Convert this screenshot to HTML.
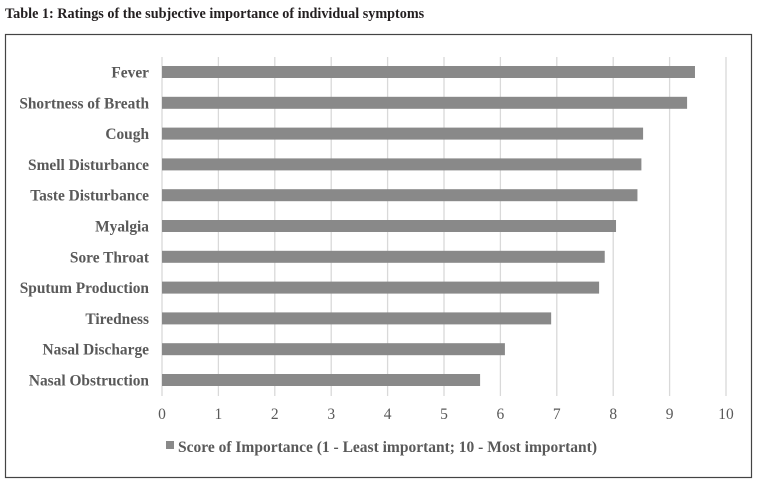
<!DOCTYPE html>
<html><head><meta charset="utf-8"><style>
html,body{margin:0;padding:0;background:#fff;}
svg text{font-family:"Liberation Serif",serif;}
</style></head><body>
<svg width="759" height="484" viewBox="0 0 759 484" xmlns="http://www.w3.org/2000/svg">
<text x="5" y="18" font-size="14.2" font-weight="bold" fill="#231f20">Table 1: Ratings of the subjective importance of individual symptoms</text>
<rect x="5.5" y="34.5" width="746" height="443" fill="none" stroke="#444" stroke-width="1.2"/>
<g id="grid"></g><g id="bars"></g><g id="labels"></g><g id="ticks"></g>
<rect x="166" y="441" width="8" height="8" fill="#898989"/>
<text x="178" y="452" font-size="15.5" font-weight="bold" fill="#595959">Score of Importance (1 - Least important; 10 - Most important)</text>
</svg>
<script>
const categories=["Fever","Shortness of Breath","Cough","Smell Disturbance","Taste Disturbance","Myalgia","Sore Throat","Sputum Production","Tiredness","Nasal Discharge","Nasal Obstruction"];
const values=[9.45,9.31,8.53,8.50,8.43,8.05,7.85,7.75,6.9,6.08,5.64];
const tickLabels=["0","1","2","3","4","5","6","7","8","9","10"];
const NS="http://www.w3.org/2000/svg";
const x0=162,x1=726,xMax=10;
const xs=v=>x0+(x1-x0)*v/xMax;
const yTop=57,band=30.8;
const yc=i=>72+band*i;
function mk(t,a){const e=document.createElementNS(NS,t);for(const k in a)e.setAttribute(k,a[k]);return e;}
const g=document.getElementById('grid'),b=document.getElementById('bars'),l=document.getElementById('labels'),tk=document.getElementById('ticks');
tickLabels.forEach((t,i)=>{
 const x=xs(+t);
 const ln=mk('line',{x1:x,x2:x,y1:yTop,y2:396,stroke:'#d9d9d9','stroke-width':1.3});
 
 
 g.appendChild(ln);
 const tx=mk('text',{x:x,y:419,'font-size':15.5,fill:'#595959','text-anchor':'middle'});
 tx.textContent=t;
 
 
 tk.appendChild(tx);
});
categories.forEach((c,i)=>{
 const r=mk('rect',{x:x0,y:yc(i)-6,width:xs(values[i])-x0,height:12,fill:'#898989'});
 
 
 b.appendChild(r);
 const t=mk('text',{x:149,y:yc(i)+5.5,'font-size':15.4,'font-weight':'bold',fill:'#595959','text-anchor':'end'});
 t.textContent=c;
 
 
 l.appendChild(t);
});
</script>
</body></html>
